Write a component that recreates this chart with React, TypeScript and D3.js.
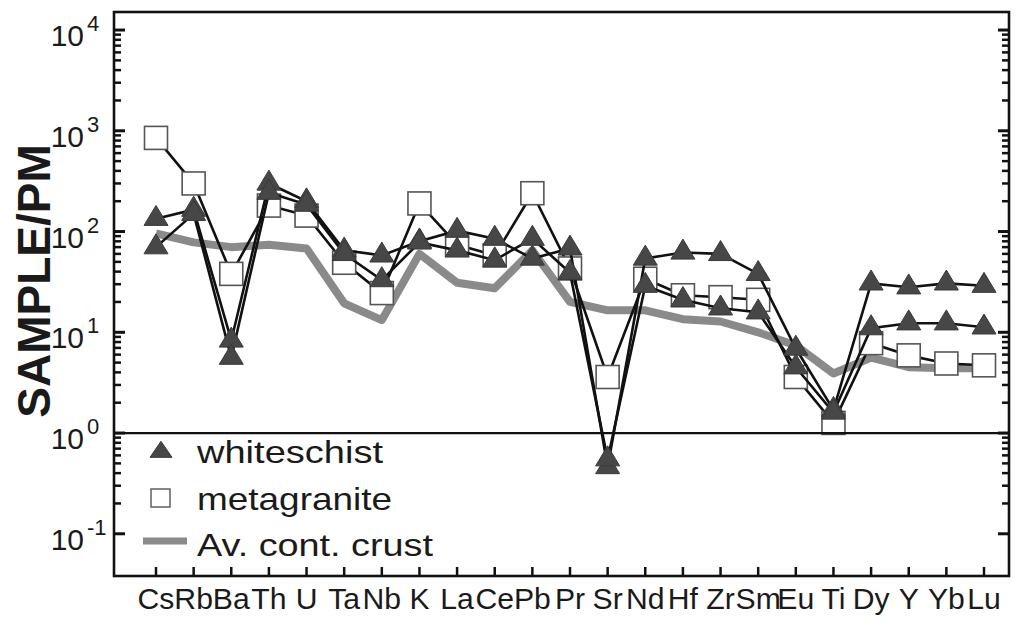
import React from "react";
import * as d3 from "d3";

const categories = ["Cs","Rb","Ba","Th","U","Ta","Nb","K","La","Ce","Pb","Pr","Sr","Nd","Hf","Zr","Sm","Eu","Ti","Dy","Y","Yb","Lu"];

const whiteschistA = [134, 165, 8.3, 300, 200, 65, 58, 80, 102, 85, 54, 68, 0.46, 54, 62, 60, 38, 6.9, 1.7, 30.6, 28, 30.6, 29];
const whiteschistB = [70, 150, 5.6, 243, 185, 60, 33, 78, 65, 52, 85, 39, 0.55, 29, 21, 17.3, 15.8, 4.5, 1.6, 11, 12.3, 12.3, 11.2];
const metagranite = [850, 300, 38, 181, 144, 49, 24.5, 190, 74, 58, 240, 43, 3.6, 34, 23.3, 22.3, 21, 3.6, 1.26, 7.8, 5.9, 4.9, 4.7];
const crust = [96, 78, 70, 74, 68, 19.4, 13.2, 60, 31, 27.4, 65, 20, 16.5, 16.5, 13.5, 12.8, 10, 7.4, 3.9, 5.6, 4.5, 4.4, 4.4];

const yTickExponents = [-1, 0, 1, 2, 3, 4];
const legendLabels = ["whiteschist", "metagranite", "Av. cont. crust"];

const W = 1018, H = 631;
const left = 114, right = 1009, top = 12, bottom = 576;

export default function App() {
  const x = d3.scalePoint<string>().domain(categories).range([156, 984]);
  const y = d3.scaleLog().domain([Math.pow(10, -1.419), Math.pow(10, 4.179)]).range([bottom, top]);

  const line = d3.line<number>().x((_, i) => x(categories[i]) as number).y((d) => y(d));

  const minor: number[] = [];
  for (let e = -1; e < 5; e++) {
    for (let m = 2; m <= 9; m++) {
      const v = m * Math.pow(10, e);
      if (y(v) >= top && y(v) <= bottom) minor.push(v);
    }
  }
  const majors = yTickExponents.map((e) => Math.pow(10, e));

  const tri = (cx: number, cy: number, w = 24, h = 20) =>
    `M${cx - w / 2},${cy + h / 3}L${cx + w / 2},${cy + h / 3}L${cx},${cy - (2 * h) / 3}Z`;

  const font = "'Liberation Sans', Arial, Helvetica, sans-serif";

  return (
    <svg width={W} height={H} style={{ position: "absolute", left: 0, top: 0, background: "#fff" }}>
      <rect x={0} y={0} width={W} height={H} fill="#fff" />
      {/* crust line */}
      <path d={line(crust) || ""} fill="none" stroke="#8a8a8a" strokeWidth={8} strokeLinejoin="round" />
      {/* metagranite */}
      <path d={line(metagranite) || ""} fill="none" stroke="#111" strokeWidth={2.6} />
      {metagranite.map((v, i) => (
        <rect key={"m" + i} x={(x(categories[i]) as number) - 11.5} y={y(v) - 11.5} width={23} height={23}
          fill="#fff" stroke="#555" strokeWidth={1.6} />
      ))}
      {/* whiteschist */}
      {[whiteschistA, whiteschistB].map((s, k) => (
        <path key={"wl" + k} d={line(s) || ""} fill="none" stroke="#111" strokeWidth={2.6} />
      ))}
      {[whiteschistA, whiteschistB].map((s, k) =>
        s.map((v, i) => (
          <path key={"w" + k + "-" + i} d={tri(x(categories[i]) as number, y(v))} fill="#474747" stroke="#3a3a3a" strokeWidth={1} />
        ))
      )}
      {/* horizontal line at 1 */}
      <line x1={left} x2={right} y1={y(1)} y2={y(1)} stroke="#111" strokeWidth={2.2} />
      {/* frame */}
      <rect x={left} y={top} width={right - left} height={bottom - top} fill="none" stroke="#111" strokeWidth={2.6} />
      {/* y ticks */}
      {majors.map((v) => (
        <g key={"M" + v}>
          <line x1={left} x2={left + 11} y1={y(v)} y2={y(v)} stroke="#111" strokeWidth={3} />
          <line x1={right} x2={right - 11} y1={y(v)} y2={y(v)} stroke="#111" strokeWidth={3} />
        </g>
      ))}
      {minor.map((v) => (
        <g key={"m" + v}>
          <line x1={left} x2={left + 7} y1={y(v)} y2={y(v)} stroke="#111" strokeWidth={2.5} />
          <line x1={right} x2={right - 7} y1={y(v)} y2={y(v)} stroke="#111" strokeWidth={2.5} />
        </g>
      ))}
      {/* y tick labels */}
      {yTickExponents.map((e) => {
        const ty = y(Math.pow(10, e));
        return (
          <g key={"l" + e} fontFamily={font} fill="#1a1a1a">
            <text x={84} y={ty + 16} fontSize={30} textAnchor="end">10</text>
            <text x={87} y={ty + 1} fontSize={22}>{String(e)}</text>
          </g>
        );
      })}
      {/* x ticks */}
      {categories.map((c) => (
        <line key={"xt" + c} x1={x(c) as number} x2={x(c) as number} y1={bottom} y2={bottom - 9} stroke="#111" strokeWidth={2.5} />
      ))}
      {categories.map((c) => (
        <text key={"xl" + c} transform={`translate(${x(c)},609) scale(1.04,1)`} fontSize={29} fontFamily={font}
          textAnchor="middle" fill="#1a1a1a">{c}</text>
      ))}
      {/* y title */}
      <text transform="translate(50,281) rotate(-90)" fontSize={46} fontWeight="bold" fontFamily={font}
        textAnchor="middle" fill="#1a1a1a">SAMPLE/PM</text>
      {/* legend */}
      <path d={tri(161, 452, 22, 16)} fill="#474747" stroke="#3a3a3a" strokeWidth={1} />
      <text x={197} y={463} fontSize={32} fontFamily={font} fill="#1a1a1a" textLength={186} lengthAdjust="spacingAndGlyphs">{legendLabels[0]}</text>
      <rect x={151} y={489} width={19} height={18} fill="#fff" stroke="#555" strokeWidth={1.4} />
      <text x={197} y={510} fontSize={32} fontFamily={font} fill="#1a1a1a" textLength={195} lengthAdjust="spacingAndGlyphs">{legendLabels[1]}</text>
      <line x1={143} x2={187} y1={541} y2={541} stroke="#8a8a8a" strokeWidth={7} />
      <text x={197} y={556} fontSize={32} fontFamily={font} fill="#1a1a1a" textLength={236} lengthAdjust="spacingAndGlyphs">{legendLabels[2]}</text>
    </svg>
  );
}
